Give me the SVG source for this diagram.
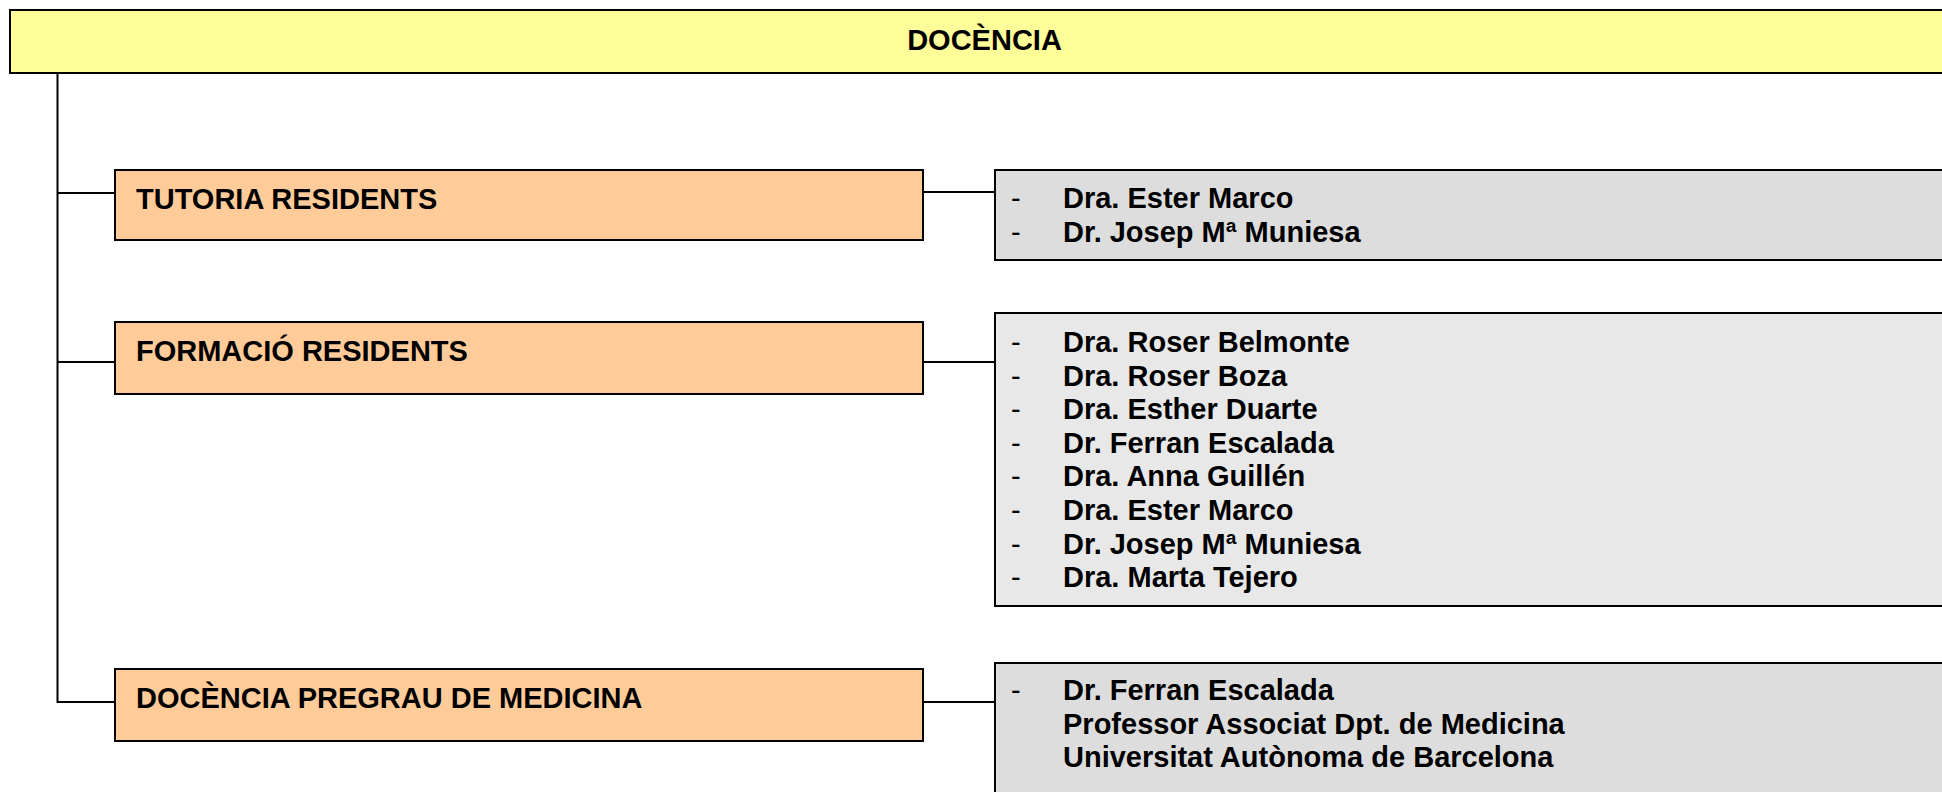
<svg xmlns="http://www.w3.org/2000/svg" width="1942" height="792" viewBox="0 0 1942 792">
<style>
text{font-family:"Liberation Sans",Arial,sans-serif;font-weight:bold;font-size:29px;fill:#000}
.box{stroke:#000;stroke-width:2}
.top{fill:#FFFF99}
.org{fill:#FFCC99}
.gry{fill:#DDDDDD}
.gry2{fill:#E8E8E8}
.con{stroke:#000;stroke-width:2;fill:none}
.d{font-weight:normal}
</style>
<rect width="1942" height="792" fill="#fff"/>
<g id="connectors">
<path class="con" d="M57.5,73 V702 H115"/>
<path class="con" d="M57.5,193 H115"/>
<path class="con" d="M57.5,362 H115"/>
<path class="con" d="M923,192 H995"/>
<path class="con" d="M923,362 H995"/>
<path class="con" d="M923,702 H995"/>
</g>
<g id="docencia">
<rect class="box top" x="10" y="10" width="1960" height="63"/>
<text x="984.5" y="50" text-anchor="middle">DOCÈNCIA</text>
</g>
<g id="tutoria">
<rect class="box org" x="115" y="170" width="808" height="70"/>
<text x="136" y="209">TUTORIA RESIDENTS</text>
</g>
<g id="tutoria-noms">
<rect class="box gry" x="995" y="170" width="980" height="90"/>
<text class="d" x="1011" y="208">-</text><text x="1063" y="208">Dra. Ester Marco</text>
<text class="d" x="1011" y="241.5">-</text><text x="1063" y="241.5">Dr. Josep Mª Muniesa</text>
</g>
<g id="formacio">
<rect class="box org" x="115" y="322" width="808" height="72"/>
<text x="136" y="361">FORMACIÓ RESIDENTS</text>
</g>
<g id="formacio-noms">
<rect class="box gry2" x="995" y="313" width="980" height="293"/>
<text class="d" x="1011" y="352">-</text><text x="1063" y="352">Dra. Roser Belmonte</text>
<text class="d" x="1011" y="385.6">-</text><text x="1063" y="385.6">Dra. Roser Boza</text>
<text class="d" x="1011" y="419.2">-</text><text x="1063" y="419.2">Dra. Esther Duarte</text>
<text class="d" x="1011" y="452.8">-</text><text x="1063" y="452.8">Dr. Ferran Escalada</text>
<text class="d" x="1011" y="486.4">-</text><text x="1063" y="486.4">Dra. Anna Guillén</text>
<text class="d" x="1011" y="520">-</text><text x="1063" y="520">Dra. Ester Marco</text>
<text class="d" x="1011" y="553.6">-</text><text x="1063" y="553.6">Dr. Josep Mª Muniesa</text>
<text class="d" x="1011" y="587.2">-</text><text x="1063" y="587.2">Dra. Marta Tejero</text>
</g>
<g id="pregrau">
<rect class="box org" x="115" y="669" width="808" height="72"/>
<text x="136" y="708">DOCÈNCIA PREGRAU DE MEDICINA</text>
</g>
<g id="pregrau-noms">
<rect class="box gry" x="995" y="663" width="980" height="160"/>
<text class="d" x="1011" y="700">-</text><text x="1063" y="700">Dr. Ferran Escalada</text>
<text x="1063" y="733.5">Professor Associat Dpt. de Medicina</text>
<text x="1063" y="767">Universitat Autònoma de Barcelona</text>
</g>
</svg>
